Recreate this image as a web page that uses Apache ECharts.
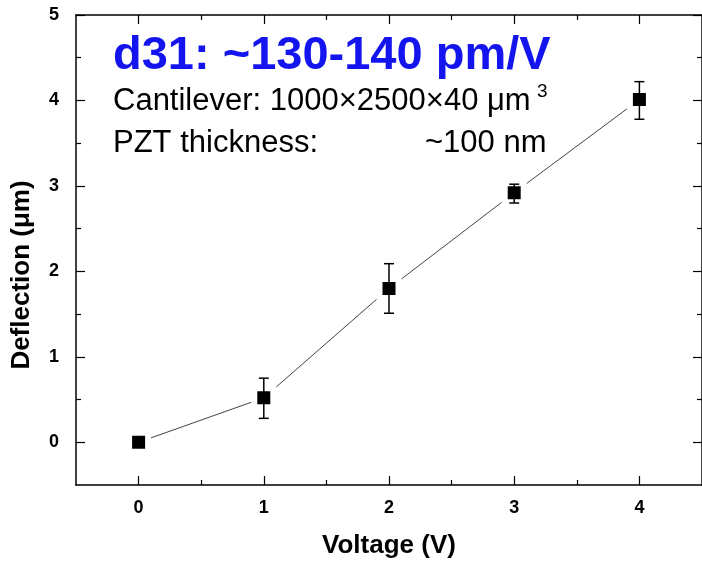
<!DOCTYPE html>
<html lang="en">
<head>
    <meta charset="UTF-8">
    <title>Deflection vs Voltage</title>
    <script src="https://cdn.jsdelivr.net/npm/echarts@6/dist/echarts.min.js"></script>
</head>
<body style="margin:0;background:#fff;">
<div id="main" style="width:702px;height:564px;"></div>
<script type="text/javascript">
    // values
    var voltage = [0, 1, 2, 3, 4];
    var deflection = [0.0, 0.52, 1.80, 2.92, 4.01];
    var errLow = [0.0, 0.28, 1.51, 2.80, 3.78];
    var errHigh = [0.0, 0.75, 2.09, 3.02, 4.22];
    var xMajor = [0, 1, 2, 3, 4];
    var xMinor = [0.5, 1.5, 2.5, 3.5];
    var yMajor = [0, 1, 2, 3, 4, 5];
    var yMinor = [0.5, 1.5, 2.5, 3.5, 4.5];

    var axisFont = 'Liberation Sans, Arial, sans-serif';

    var points = [];
    var bars = [];
    for (var i = 0; i < voltage.length; i++) {
        points.push([voltage[i], deflection[i]]);
        bars.push([voltage[i], errLow[i], errHigh[i]]);
    }

    // one axis = either major ticks (+ labels) or minor ticks only
    function makeAxis(pos, min, max, ticks, len, showLine, showLabel, margin) {
        return {
            type: 'value',
            position: pos,
            min: min,
            max: max,
            axisLine: {show: showLine, onZero: false, lineStyle: {color: '#000', width: 1.5}},
            axisTick: {show: true, inside: true, length: len, customValues: ticks,
                lineStyle: {color: '#000', width: 1.2}},
            axisLabel: {show: showLabel, customValues: ticks, color: '#000',
                fontFamily: axisFont, fontWeight: 'bold', fontSize: 18, margin: margin || 12},
            splitLine: {show: false}
        };
    }

    var xBottom = makeAxis('bottom', -0.5, 4.5, xMajor, 9, true, true, 14);
    xBottom.name = 'Voltage (V)';
    xBottom.nameLocation = 'middle';
    xBottom.nameGap = 48;
    xBottom.nameTextStyle = {fontFamily: axisFont, fontWeight: 'bold', fontSize: 26, color: '#000'};

    var yLeft = makeAxis('left', -0.5, 5, yMajor, 9, true, true, 17);

    var chart = echarts.init(document.getElementById('main'));
    var option = {
        backgroundColor: '#fff',
        animation: false,
        grid: {left: 76, top: 15, width: 628, height: 471},
        xAxis: [
            xBottom,
            makeAxis('bottom', -0.5, 4.5, xMinor, 5, false, false),
            makeAxis('top', -0.5, 4.5, xMajor, 9, true, false),
            makeAxis('top', -0.5, 4.5, xMinor, 5, false, false)
        ],
        yAxis: [
            yLeft,
            makeAxis('left', -0.5, 5, yMinor, 5, false, false),
            makeAxis('right', -0.5, 5, yMajor, 9, true, false),
            makeAxis('right', -0.5, 5, yMinor, 5, false, false)
        ],
        graphic: [
            {type: 'text', x: 22, y: 275, rotation: Math.PI / 2, z: 10,
                style: {text: 'Deflection (\u03bcm)', fill: '#000', align: 'center',
                    verticalAlign: 'middle', font: 'bold 26px ' + axisFont}},
            {type: 'text', left: 113, top: 33, z: 10,
                style: {text: 'd31: ~130-140 pm/V', fill: '#1414ee',
                    font: 'bold 47px ' + axisFont}},
            {type: 'text', left: 113, top: 86, z: 10,
                style: {text: 'Cantilever: 1000\u00d72500\u00d740 \u03bcm', fill: '#000',
                    font: '31px ' + axisFont}},
            {type: 'text', left: 537, top: 82, z: 10,
                style: {text: '3', fill: '#000', font: '19px ' + axisFont}},
            {type: 'text', left: 113, top: 128, z: 10,
                style: {text: 'PZT thickness:', fill: '#000', font: '31px ' + axisFont}},
            {type: 'text', left: 425, top: 128, z: 10,
                style: {text: '~100 nm', fill: '#000', font: '31px ' + axisFont}}
        ],
        series: [
            {
                type: 'line',
                data: points,
                symbol: 'none',
                lineStyle: {color: '#444', width: 1},
                z: 2
            },
            {
                type: 'scatter',
                data: points,
                symbol: 'rect',
                symbolSize: 19,
                itemStyle: {color: '#000', borderColor: '#fff', borderWidth: 6, opacity: 1},
                z: 3
            },
            {
                type: 'custom',
                data: bars,
                z: 4,
                renderItem: function (params, api) {
                    var lo = api.coord([api.value(0), api.value(1)]);
                    var hi = api.coord([api.value(0), api.value(2)]);
                    if (api.value(1) === api.value(2)) {
                        return;
                    }
                    var w = 5;
                    var st = {stroke: '#000', lineWidth: 1.5};
                    return {
                        type: 'group',
                        children: [
                            {type: 'line', shape: {x1: lo[0], y1: lo[1], x2: hi[0], y2: hi[1]}, style: st},
                            {type: 'line', shape: {x1: lo[0] - w, y1: lo[1], x2: lo[0] + w, y2: lo[1]}, style: st},
                            {type: 'line', shape: {x1: hi[0] - w, y1: hi[1], x2: hi[0] + w, y2: hi[1]}, style: st}
                        ]
                    };
                }
            }
        ]
    };
    chart.setOption(option);
</script>
</body>
</html>
